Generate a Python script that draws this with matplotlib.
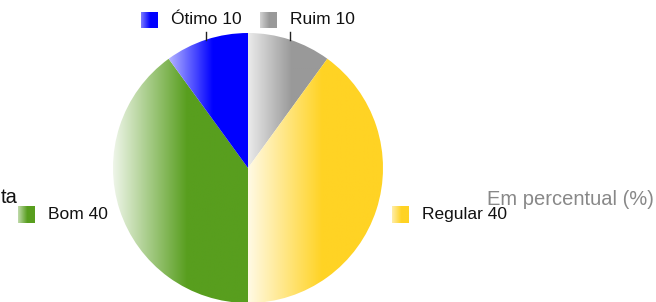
import numpy as np
import matplotlib
matplotlib.use('Agg')
import matplotlib.pyplot as plt
from matplotlib.colors import to_rgb
from matplotlib.patches import Rectangle

plt.rcParams['font.family'] = ['Liberation Sans', 'DejaVu Sans']

# slices, clockwise from 12 o'clock
labels = ['Ruim', 'Regular', 'Bom', 'Ótimo']
values = [10, 40, 40, 10]
colors = ['#999999', '#ffd324', '#589e1e', '#0000ff']
light_mix = [0.8, 0.88, 0.9, 0.7]   # how washed out the left edge of each gradient is
title = 'ta'   # only the tail of the title is visible in the chart
subtitle = 'Em percentual (%)'

W, H = 656, 302
cx, cy, R = 248, 134, 135


def gradient(color, mix, n=200):
    # horizontal ramp: light on the left, solid colour from ~55% of the width
    c = np.array(to_rgb(color))
    t = np.clip(np.linspace(0, 1, n) / 0.55, 0, 1)
    k = mix * (1 - t)
    row = c[None, :] + (1 - c[None, :]) * k[:, None]
    return row[None, :, :]


def fill_gradient(ax, patch, color, mix):
    bb = patch.get_extents().transformed(ax.transData.inverted())
    im = ax.imshow(gradient(color, mix), extent=[bb.x0, bb.x1, bb.y0, bb.y1],
                   aspect='auto', interpolation='bilinear', zorder=patch.get_zorder())
    im.set_clip_path(patch)
    patch.set_facecolor('none')
    return im


fig = plt.figure(figsize=(W / 100, H / 100), dpi=100)
ax = fig.add_axes([0, 0, 1, 1])
wedges, _ = ax.pie(values, startangle=90, counterclock=False, center=(cx, cy),
                   radius=R, wedgeprops=dict(linewidth=0))
ax.set_xlim(0, W)
ax.set_ylim(0, H)
ax.set_aspect('equal')
ax.axis('off')
fig.canvas.draw()

for w, col, m in zip(wedges, colors, light_mix):
    fill_gradient(ax, w, col, m)

fig.canvas.draw()
renderer = fig.canvas.get_renderer()
inv = ax.transData.inverted()

total = sum(values)
cum = 0
fs = 12.5
box = 17
for lab, v, col, m in zip(labels, values, colors, light_mix):
    mid = np.deg2rad(90 - (cum + v / 2) * 360 / total)
    cum += v
    mx, my = cx + R * np.cos(mid), cy + R * np.sin(mid)
    txt = f'{lab} {v}'
    if my > cy + R * 0.8:
        # labels above the pie with a short leader line
        ax.plot([mx, mx], [my, 270], color='#222222', lw=1, zorder=3)
        ha = 'left' if mx > cx else 'center'
        t = ax.text(mx, 282, txt, ha=ha, va='center', fontsize=fs, color='#111111')
        ty = 282
    elif mx < cx:
        t = ax.text(mx - 12, my - 5, txt, ha='right', va='center', fontsize=fs, color='#111111')
        ty = my - 5
    else:
        t = ax.text(mx + 45.5, my - 5, txt, ha='left', va='center', fontsize=fs, color='#111111')
        ty = my - 5
    bb = t.get_window_extent(renderer).transformed(inv)
    r = Rectangle((bb.x0 - 13 - box, ty - box / 2), box, box, linewidth=0)
    ax.add_patch(r)
    fill_gradient(ax, r, col, m * 0.7)

ax.text(18, 99, title, ha='right', va='baseline', fontsize=14.5, color='#111111')
ax.text(487, 97, subtitle, ha='left', va='baseline', fontsize=14.5, color='#888888')

fig.savefig('out.png', dpi=100)
